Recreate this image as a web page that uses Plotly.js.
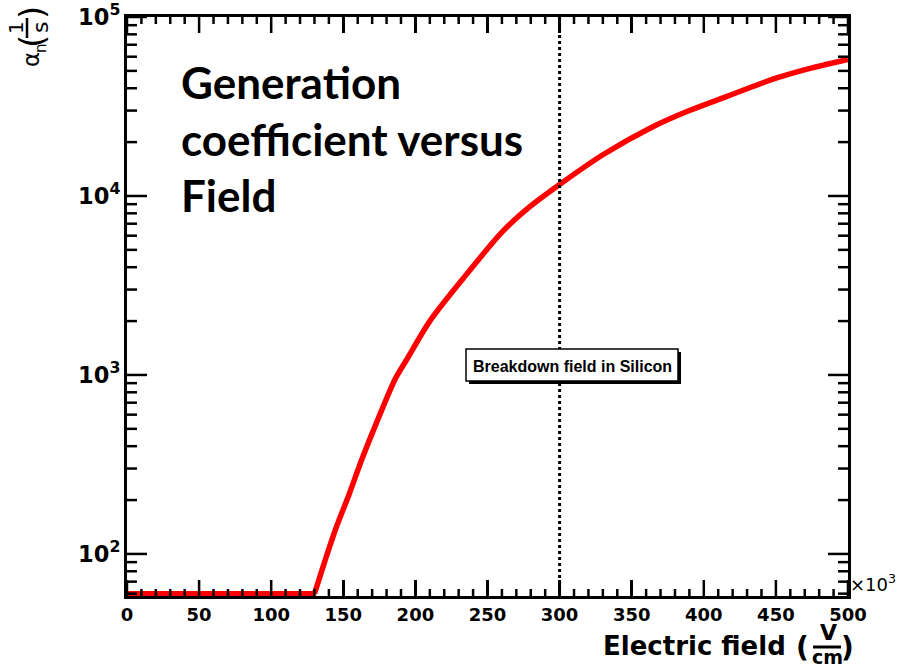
<!DOCTYPE html>
<html><head><meta charset="utf-8">
<script src="https://cdn.plot.ly/plotly-3.0.1.min.js"></script>
<style>html,body{margin:0;padding:0;background:#fff}#chart{width:898px;height:669px}</style>
</head><body><div id="chart"></div>
<script>
// Electric field in units of 10^3 V/cm
const fieldKV = [0, 130, 137, 145, 154, 163, 173, 186, 194, 210, 233, 261, 280, 300, 330, 363, 390, 416, 450, 475, 500];
// Generation coefficient alpha_n (1/s)
const alphaN = [60, 60, 90, 140, 215, 340, 540, 950, 1220, 2000, 3450, 6400, 8800, 11600, 17000, 24000, 30000, 36000, 45500, 52000, 58000];
const floorPoints = 2; // the flat floor ends at the 2nd point
const breakdownField = 300;
const xRange = [0, 500];
const yRange = [1.765, 5];
const xTickStep = 50;
const xMinorStep = 10;

const W = 898, H = 669, L = 127, R = 50, T = 17, B = 73;
const PW = W - L - R, PH = H - T - B;
const fx = px => (px - L) / PW;
const fy = py => (H - B - py) / PH;

// axis tick positions
const xMajor = [], xMinor = [];
for (let v = xRange[0]; v <= xRange[1]; v += xMinorStep) {
  (v % xTickStep === 0 ? xMajor : xMinor).push(v);
}
const yMajor = [], yMinor = [];
for (let e = Math.floor(yRange[0]); e <= yRange[1]; e++) {
  for (let d = 1; d <= 9; d++) {
    const v = d * Math.pow(10, e);
    const lv = Math.log10(v);
    if (lv >= yRange[0] - 1e-9 && lv <= yRange[1] + 1e-9) (d === 1 ? yMajor : yMinor).push(v);
  }
}

const tickFont = {family: 'DejaVu Sans', size: 18, color: '#000', weight: 'bold'};
const bold = (size, fam) => ({family: fam || 'DejaVu Sans', size: size, color: '#000', weight: 'bold'});
const plain = (size, fam) => ({family: fam || 'DejaVu Sans', size: size, color: '#000'});

function ann(text, px, py, font, opts) {
  return Object.assign({
    xref: 'paper', yref: 'paper', x: 0, y: 1, xshift: px - L, yshift: T - py,
    showarrow: false, xanchor: 'center', yanchor: 'middle', text: text, font: font
  }, opts || {});
}

const tickLine = {color: '#000', width: 2.5};
function xTick(v, len) {
  return [
    {type: 'line', xref: 'x', x0: v, x1: v, yref: 'paper', ysizemode: 'pixel', yanchor: 0, y0: 0, y1: len, line: tickLine},
    {type: 'line', xref: 'x', x0: v, x1: v, yref: 'paper', ysizemode: 'pixel', yanchor: 1, y0: 0, y1: -len, line: tickLine}
  ];
}
function yTick(v, len) {
  return [
    {type: 'line', yref: 'y', y0: v, y1: v, xref: 'paper', xsizemode: 'pixel', xanchor: 0, x0: 0, x1: len, line: tickLine},
    {type: 'line', yref: 'y', y0: v, y1: v, xref: 'paper', xsizemode: 'pixel', xanchor: 1, x0: 0, x1: -len, line: tickLine}
  ];
}

const redLine = {color: '#ff0000', width: 5.5};
const traces = [
  {x: fieldKV.slice(0, floorPoints), y: alphaN.slice(0, floorPoints), type: 'scatter', mode: 'lines',
   line: redLine, hoverinfo: 'skip'},
  {x: fieldKV.slice(floorPoints - 1), y: alphaN.slice(floorPoints - 1), type: 'scatter', mode: 'lines',
   line: Object.assign({shape: 'spline', smoothing: 0.8}, redLine), hoverinfo: 'skip'}
];

const baseShapes = [
  {type: 'line', xref: 'x', yref: 'paper', x0: breakdownField, x1: breakdownField, y0: 0, y1: 1,
   line: {color: '#000', width: 3, dash: 'dot'}},
  {type: 'rect', xref: 'paper', yref: 'paper', x0: fx(469), x1: fx(681), y0: fy(384), y1: fy(352),
   fillcolor: '#000', line: {width: 0}},
  {type: 'rect', xref: 'paper', yref: 'paper', x0: fx(466), x1: fx(678), y0: fy(381), y1: fy(349),
   fillcolor: '#fff', line: {color: '#000', width: 1.5}},
  // fraction bar of y title
  {type: 'line', xref: 'paper', yref: 'paper', x0: fx(27), x1: fx(27), y0: fy(38), y1: fy(18),
   line: {color: '#000', width: 2.5}},
  // fraction bar of x title
  {type: 'line', xref: 'paper', yref: 'paper', x0: fx(813), x1: fx(841), y0: fy(647), y1: fy(647),
   line: {color: '#000', width: 3}}
];
const xTickShapes = [].concat(...xMajor.map(v => xTick(v, 16)), ...xMinor.map(v => xTick(v, 7)));
const firstYTickIndex = baseShapes.length + xTickShapes.length;
const yTickShapes = [].concat(...yMajor.map(v => yTick(v, 20)), ...yMinor.map(v => yTick(v, 10)));

const layout = {
  width: W, height: H,
  margin: {l: L, r: R, t: T, b: B, pad: 0},
  paper_bgcolor: '#fff', plot_bgcolor: '#fff',
  showlegend: false,
  xaxis: {
    range: xRange, showgrid: false, zeroline: false,
    showline: true, linecolor: '#000', linewidth: 3, mirror: 'allticks',
    ticks: 'inside', ticklen: 16, tickwidth: 2.5, tickcolor: '#000',
    tickmode: 'linear', tick0: 0, dtick: xTickStep, tickfont: tickFont
  },
  yaxis: {
    type: 'log', range: yRange, showgrid: false, zeroline: false,
    showline: true, linecolor: '#000', linewidth: 3, mirror: 'allticks',
    ticks: 'inside', ticklen: 20, tickwidth: 2.5, tickcolor: '#000',
    dtick: 1, exponentformat: 'power', tickfont: tickFont
  },
  shapes: baseShapes.concat(xTickShapes, yTickShapes),
  annotations: [
    ann('Generation', 179, 82, bold(44, 'Lato'), {xanchor: 'left'}),
    ann('coefficient versus', 179, 139, bold(44, 'Lato'), {xanchor: 'left'}),
    ann('Field', 179, 195, bold(44, 'Lato'), {xanchor: 'left'}),
    ann('Breakdown field in Silicon', 572, 366, bold(16, 'Liberation Sans')),
    ann('×10<sup>3</sup>', 873, 583, plain(18)),
    ann('Electric field', 601, 646, bold(26), {xanchor: 'left'}),
    ann('(', 802, 647, bold(28)),
    ann('V', 828, 632, bold(22)),
    ann('cm', 827, 657, bold(19)),
    ann(')', 847, 647, bold(28)),
    // y title pieces, rotated
    ann('α', 31, 60, plain(23), {textangle: -90}),
    ann('n', 41, 48, plain(15), {textangle: -90}),
    ann('(', 32, 42, plain(34), {textangle: -90}),
    ann('1', 16, 28, plain(20), {textangle: -90}),
    ann('s', 40, 28, plain(22), {textangle: -90}),
    ann(')', 32, 13, plain(34), {textangle: -90})
  ]
};

Plotly.newPlot('chart', traces, layout, {displayModeBar: false, staticPlot: true}).then(gd => {
  // if this Plotly build reads shape positions on log axes as log10 values, convert them
  try {
    const ya = gd._fullLayout.yaxis;
    const expected = ya._offset + ya.l2p(Math.log10(yMajor[0]));
    const s = gd._fullLayout.shapes[firstYTickIndex];
    const shapeY = ya._offset + ya.l2p(typeof ya.d2l === 'function' && false ? 0 : ya.r2l(ya.d2r(s.y0)));
    const paths = gd.querySelectorAll('.shapelayer path');
    let bad = false;
    if (paths.length > firstYTickIndex) {
      const bb = paths[firstYTickIndex].getBoundingClientRect();
      const cy = bb.top + bb.height / 2 - gd.getBoundingClientRect().top;
      bad = Math.abs(cy - expected) > 6;
    }
    if (bad) {
      const upd = {};
      for (let i = firstYTickIndex; i < layout.shapes.length; i++) {
        const v = Math.log10(layout.shapes[i].y0);
        upd['shapes[' + i + '].y0'] = v;
        upd['shapes[' + i + '].y1'] = v;
      }
      Plotly.relayout(gd, upd);
    }
  } catch (e) {}
});
</script>
</body></html>
